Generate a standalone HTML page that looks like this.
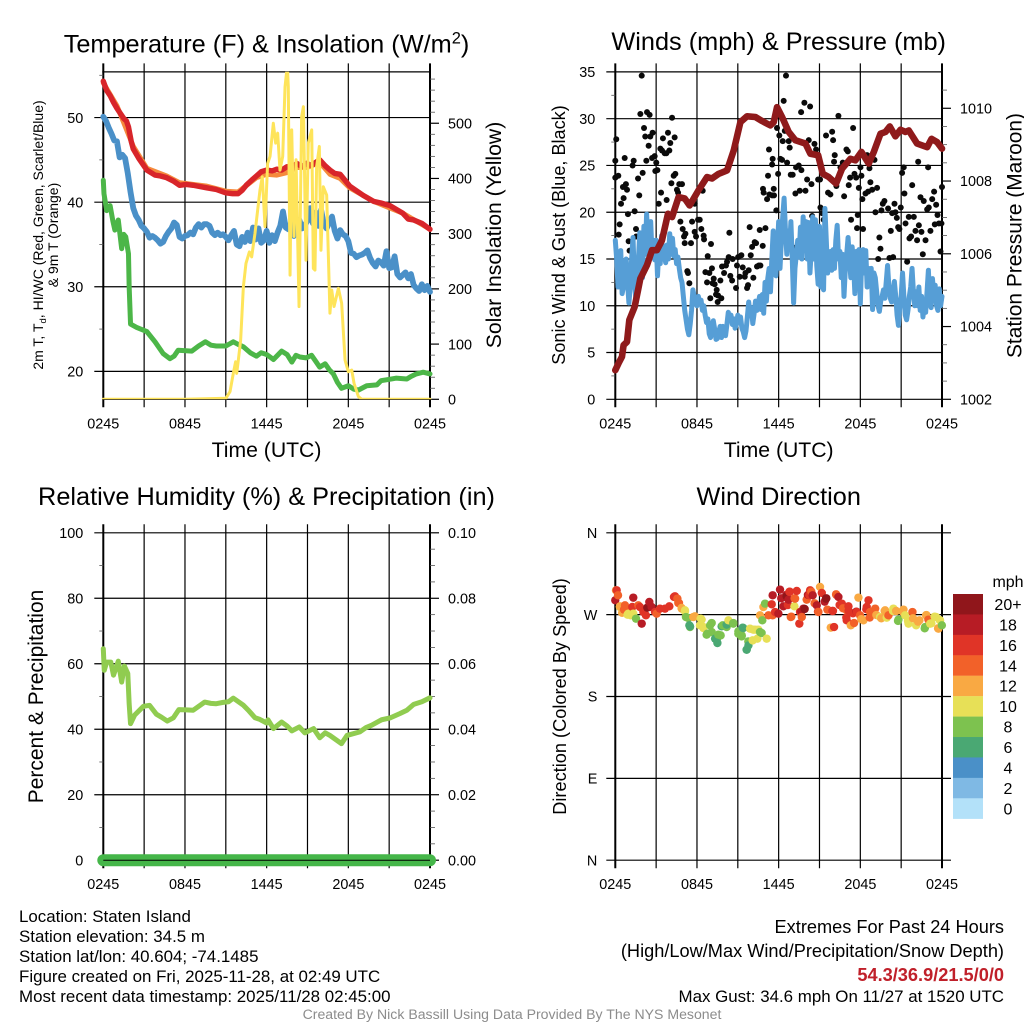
<!DOCTYPE html>
<html lang="en">
<head>
<meta charset="utf-8">
<title>NYS Mesonet Station Meteogram - Staten Island</title>
<style>
html,body{margin:0;padding:0;background:#fff;}
svg{display:block;font-family:"Liberation Sans",sans-serif;fill:#000;}
</style>
</head>
<body>
<svg id="chart" xmlns="http://www.w3.org/2000/svg" width="1024" height="1024" viewBox="0 0 1024 1024">
<rect x="0" y="0" width="1024" height="1024" fill="#fff"/>
<defs>
<clipPath id="temp-clip"><rect x="90" y="71.7" width="360" height="327.6"/></clipPath>
</defs>
<g id="layer-panels"></g>

<text x="266.5" y="52.5" text-anchor="middle" font-size="25.3">Temperature (F) &amp; Insolation (W/m<tspan dy="-9" font-size="16.5">2</tspan><tspan dy="9">)</tspan></text>
<text text-anchor="middle" font-size="14" transform="translate(43,235) rotate(-90)">2m T, T<tspan dy="3" font-size="9.5">d</tspan><tspan dy="-3">, HI/WC (Red, Green, Scarlet/Blue)</tspan></text>
<text text-anchor="middle" font-size="14" transform="translate(58,235) rotate(-90)">&amp; 9m T (Orange)</text>
<text text-anchor="middle" font-size="21.2" transform="translate(501,235) rotate(-90)">Solar Insolation (Yellow)</text>
<text x="266.5" y="457" text-anchor="middle" font-size="21.2">Time (UTC)</text>

<text x="778.7" y="50" text-anchor="middle" font-size="25.3">Winds (mph) &amp; Pressure (mb)</text>
<text text-anchor="middle" font-size="18.1" transform="translate(565,235) rotate(-90)">Sonic Wind &amp; Gust (Blue, Black)</text>
<text text-anchor="middle" font-size="20.9" transform="translate(1021.5,235.5) rotate(-90)">Station Pressure (Maroon)</text>
<text x="778.7" y="457" text-anchor="middle" font-size="21.2">Time (UTC)</text>

<text x="266.5" y="505" text-anchor="middle" font-size="25.3">Relative Humidity (%) &amp; Precipitation (in)</text>
<text text-anchor="middle" font-size="21" transform="translate(43,696.5) rotate(-90)">Percent &amp; Precipitation</text>

<text x="778.7" y="505" text-anchor="middle" font-size="25.3">Wind Direction</text>
<text text-anchor="middle" font-size="18.2" transform="translate(566,696.5) rotate(-90)">Direction (Colored By Speed)</text>
<text x="1008" y="587" text-anchor="middle" font-size="16">mph</text>
<g id="layer-legend"></g>

<g font-size="16.9">
<text x="19" y="922">Location: Staten Island</text>
<text x="19" y="942">Station elevation: 34.5 m</text>
<text x="19" y="962">Station lat/lon: 40.604; -74.1485</text>
<text x="19" y="982">Figure created on Fri, 2025-11-28, at 02:49 UTC</text>
<text x="19" y="1002">Most recent data timestamp: 2025/11/28 02:45:00</text>
</g>
<g text-anchor="end">
<text x="1004" y="933" font-size="18.2">Extremes For Past 24 Hours</text>
<text x="1004" y="957" font-size="18.2">(High/Low/Max Wind/Precipitation/Snow Depth)</text>
<text x="1004" y="981" font-size="18.2" font-weight="bold" fill="#c0202a">54.3/36.9/21.5/0/0</text>
<text x="1004" y="1002" font-size="16.9">Max Gust: 34.6 mph On 11/27 at 1520 UTC</text>
</g>
<text x="512" y="1019" text-anchor="middle" font-size="14.1" fill="#8c8c8c">Created By Nick Bassill Using Data Provided By The NYS Mesonet</text>
</svg>

<script>
// ---- Shared axis data ----
const timeTickHours = [0, 3, 6, 9, 12, 15, 18, 21, 24];
const timeTickLabels = ["0245", "", "0845", "", "1445", "", "2045", "", "0245"];

// ---- Temperature panel ----
const tempTicks = [20, 30, 40, 50];
const tempMinorTicks = [25, 35, 45, 55];
const solarTicks = [0, 100, 200, 300, 400, 500];
const solarMinorTicks = [20, 40, 60, 80, 120, 140, 160, 180, 220, 240, 260, 280, 320, 340, 360, 380, 420, 440, 460, 480, 520, 540, 560, 580];

const redHours = [0, .25, .5, .75, 1, 1.25, 1.5, 1.7, 1.85, 2.05, 2.2, 2.6, 3.2, 3.8, 4.2, 4.65, 5.15, 5.6, 6.1, 6.6, 7.6, 8.3, 9, 9.5, 9.9, 10.2, 10.5, 10.9, 11.25, 11.6, 12, 12.4, 12.75, 13.1, 13.5, 13.9, 14.2, 14.6, 14.95, 15.3, 15.6, 15.9, 16.3, 16.65, 17, 17.4, 18.1, 19.1, 19.85, 20.4, 21.05, 22, 22.4, 22.8, 23.4, 24];
const redTemp = [54.3, 53.2, 52.6, 51.8, 51.1, 50.5, 49.9, 49.6, 48.9, 47.2, 46.3, 45.2, 43.8, 43.2, 43.1, 42.9, 42.5, 42, 42.1, 42, 41.7, 41.5, 41.1, 41, 41, 41.4, 42, 42.6, 43.1, 43.6, 43.8, 43.7, 43.9, 43.8, 44.2, 44, 44.6, 44.2, 44.6, 44.3, 44.7, 45, 44.3, 43.8, 43.4, 43.3, 41.9, 40.8, 40.1, 39.9, 39.6, 38.7, 38, 37.9, 37.5, 36.8];
const orangeHours = [0, 1, 2.2, 3.2, 4.65, 5.6, 7.6, 9, 9.9, 11.25, 12, 12.75, 13.5, 14.2, 14.95, 15.9, 16.65, 17.4, 18.1, 19.85, 22, 24];
const orangeTemp = [54.1, 51.4, 46.6, 44, 43.1, 42.3, 41.9, 41.3, 41.2, 42.9, 43.3, 43.2, 43.5, 44.1, 44.1, 44.7, 43.3, 42.8, 41.7, 40.1, 38.7, 36.8];
// blue series sampled every 0.2 h, five values per hour on each row
const blueStepHours = 0.2;
const blueTemp = [
 50.1, 49.6, 48.8, 48.1, 47.3,
 47.2, 45.3, 45.6, 45.2, 43.4,
 41.2, 39.3, 38.4, 37.9, 37.2,
 36.9, 36.5, 35.8, 36, 35.8,
 35.5, 35.1, 35.3, 36, 36.5,
 36.9, 37.6, 37.3, 35.9, 35.7,
 36, 36.1, 36.4, 36.2, 37,
 37.4, 37, 37.4, 37.4, 37.2,
 36.4, 36.1, 36.4, 36.1, 36.2,
 35.9, 35.5, 36.1, 36.6, 35,
 34.8, 35.9, 35.3, 36.4, 35.4,
 37, 35.6, 36.9, 35.2, 35.5,
 36.6, 35.2, 36.1, 35.4, 36.4,
 37.2, 38.9, 37, 36.8, 37.6,
 36, 37.7, 37.9, 36.9, 37.3,
 37.8, 39.3, 37.5, 38.8, 37.2,
 39.1, 37.4, 36.9, 37.6, 38.3,
 36.6, 35.7, 36.7, 36.2, 36,
 35.4, 34, 33.9, 33.5, 33.7,
 33.8, 34, 34.3, 33.4, 32.8,
 32.4, 33.1, 32.9, 32.5, 34.2,
 32.2, 32.3, 33.6, 31.5, 31.1,
 31.4, 31.7, 31, 31.5, 30.2,
 29.8, 29.5, 30.3, 29.6, 30.1,
 29.4];
const greenHours = [0, .05, .25, .5, .7, .85, 1.1, 1.35, 1.5, 1.65, 1.85, 1.9, 2, 2.45, 3.2, 3.8, 4.4, 4.9, 5.2, 5.5, 6.5, 7, 7.5, 7.9, 8.3, 9, 9.55, 9.9, 10.3, 10.8, 11.25, 11.6, 12, 12.5, 13.1, 13.5, 13.85, 14.15, 14.45, 14.9, 15.3, 15.6, 15.9, 16.3, 16.6, 16.9, 17.2, 17.5, 18, 18.4, 18.75, 19.35, 20.1, 20.4, 20.8, 21.5, 22.3, 22.6, 23, 23.5, 24];
const greenTemp = [42.6, 41, 39, 39.6, 37.8, 36.7, 37.9, 34.5, 36.2, 35.9, 33.9, 30, 25.6, 25.2, 24.7, 23.5, 22.1, 21.5, 21.8, 22.5, 22.4, 23, 23.5, 23.1, 23, 23, 23.5, 23.2, 22.9, 22.2, 21.8, 22.2, 22, 21.4, 22.4, 22, 21.1, 21.9, 21.7, 21.6, 21.9, 21.2, 20.5, 20.9, 20.2, 19.7, 18.7, 18, 18.3, 17.9, 17.8, 18.3, 18.4, 18.9, 19, 19.2, 19.1, 19.4, 19.7, 19.9, 19.7];
const solarHours = [0, 3, 6, 9.01, 9.31, 9.55, 9.72, 9.8, 9.92, 10.09, 10.29, 10.48, 10.73, 10.9, 11.14, 11.51, 11.68, 11.88, 12.07, 12.25, 12.49, 12.66, 12.81, 12.98, 13.18, 13.35, 13.52, 13.59, 13.72, 13.84, 14.01, 14.16, 14.38, 14.57, 14.7, 14.89, 15.06, 15.31, 15.43, 15.55, 15.67, 15.87, 15.99, 16.16, 16.41, 16.65, 16.78, 16.95, 17.27, 17.51, 17.76, 18, 18.25, 18.42, 18.74, 18.98, 21, 24];
const solarValues = [0, 0, 0, 2, 14, 47, 68, 47, 71, 107, 204, 246, 267, 258, 300, 379, 403, 313, 427, 440, 500, 464, 482, 415, 440, 566, 605, 566, 225, 488, 295, 434, 168, 512, 530, 252, 464, 488, 237, 234, 421, 458, 270, 385, 370, 156, 198, 168, 201, 174, 71, 50, 53, 29, 5, 0, 0, 0];

// ---- Winds panel ----
const windTicks = [0, 5, 10, 15, 20, 25, 30, 35];
const windMinorTicks = [2.5, 7.5, 12.5, 17.5, 22.5, 27.5, 32.5];
const pressureTicks = [1002, 1004, 1006, 1008, 1010];
const pressureMinorTicks = [1002.5, 1003, 1003.5, 1004.5, 1005, 1005.5, 1006.5, 1007, 1007.5, 1008.5, 1009, 1009.5, 1010.5];
// sonic wind sampled every 0.1 h, ten values per hour on each row
const windStepHours = 0.1;
const windMph = [
 17, 15, 12, 14, 15.9, 11.3, 12, 14.5, 15, 12.5,
 10.3, 12, 15, 17.3, 13, 10.8, 14, 15, 17.8, 14,
 13, 18.5, 15.5, 19.8, 17, 15, 19, 15.5, 17, 14.9,
 17, 13.2, 16, 14.5, 17.5, 15, 15.5, 14.6, 16.5, 15,
 17.7, 15.5, 17.2, 15.3, 16, 14.5, 15.2, 14, 13, 12.5,
 11, 9.5, 8.5, 7.5, 6.9, 8, 9.5, 11.7, 11, 10.5,
 10, 11, 10.3, 10.6, 9.5, 10, 9, 8.2, 8.6, 7,
 6.6, 7.8, 8.4, 7.5, 6.4, 6.5, 7.2, 7.8, 6.6, 7.8,
 7.2, 6.8, 8, 9.3, 8.6, 9, 8, 8.6, 7.6, 8,
 9, 8.3, 8.8, 7.6, 7.2, 6.6, 7.3, 8.8, 10.4, 9,
 9.8, 8.1, 9.2, 10.5, 9.5, 10.3, 11, 9.6, 11.2, 9.2,
 12.5, 10.5, 12.9, 14, 11.5, 15, 18, 13.5, 13.2, 16,
 19, 14, 17, 19.5, 21.5, 18, 15.5, 18, 16, 19,
 15, 10.3, 14, 15.5, 17, 15.2, 18.4, 15, 19.5, 16,
 19, 15, 18.9, 13.5, 16, 19.5, 15, 19.2, 14.3, 12.3,
 18.5, 12, 16, 11.7, 20.4, 17, 13.5, 15, 15.8, 13.8,
 16, 14, 17, 18.6, 15, 15.8, 13, 15.5, 11, 14,
 15.5, 17.3, 15, 13, 16.3, 14.5, 11.3, 15.8, 12.5, 16,
 10.2, 15, 16, 13.5, 15.9, 12, 14, 12.8, 14, 9.6,
 13.5, 13, 11.5, 10, 9.4, 10.5, 11, 11.7, 10.8, 12.5,
 14.3, 12, 10.8, 10.4, 11.5, 12.6, 11, 9, 7.9, 10,
 11, 13.5, 11, 9, 8.5, 9.5, 11, 12, 14, 11.5,
 10, 11.5, 10, 12, 9.5, 11, 8.8, 10, 9.3, 11.5,
 13.8, 10.5, 9.8, 12.9, 11, 12.2, 10, 9.5, 11.8, 10,
 11];
const gustHours = [0, .07, 0, .22, .32, .25, .42, .61, .56, .78, .86, .69, .93, 1.27, 1.35, 1.42, 1.52, 1.54, .98, 1.05, 1.67, 1.76, 1.84, 1.94, 2.01, 2.11, 2.2, 2.28, 2.33, 2.52, 2.45, 2.57, 2.74, 2.7, 2.89, 2.94, 3.01, 3.09, 3.19, 3.36, 3.31, 3.5, 3.43, 3.63, 3.75, 3.77, 3.87, 3.97, 4.04, 4.17, 4.12, 4.29, 4.41, 4.36, 4.53, 4.61, 4.78, 4.7, 4.9, 4.95, 5.05, 5.15, 5.1, 5.29, 5.34, 5.44, 5.56, 5.64, 5.83, 5.93, 6.08, 6.2, 5.83, 6.32, 6.42, 6.49, 6.52, 7.03, 6.79, 6.62, 6.91, 6.74, 7.1, 7.23, 7.3, 7.15, 7.45, 7.4, 6.98, 7.52, 7.55, 7.79, 7.72, 7.84, 7.99, 8.13, 8.21, 8.33, 8.38, 8.45, 8.58, 8.94, 8.87, 8.62, 9.02, 9.14, 9.26, 9.36, 9.56, 9.51, 9.68, 9.75, 9.8, 9.87, 9.95, 10.05, 10.14, 10.24, 10.34, 10.41, 10.54, 10.66, 10.61, 10.83, 11.03, 10.9, 10.85, 11.15, 11.32, 11.52, 11.66, 11.64, 11.22, 11.29, 11.52, 11.56, 11.83, 11.96, 11.88, 12.05, 12.13, 12.25, 12.3, 12.37, 12.45, 12.62, 12.54, 12.74, 12.81, 12.89, 13.03, 13.13, 13.23, 13.28, 13.48, 13.55, 13.67, 13.65, 13.89, 13.97, 14.09, 14.21, 14.31, 14.41, 14.46, 14.63, 14.75, 14.9, 15.04, 15.07, 15.19, 15.31, 15.48, 15.63, 15.8, 15.93, 16, 16.07, 16.12, 16.24, 16.39, 16.54, 16.71, 16.81, 16.98, 17.08, 17.15, 17.25, 17.32, 17.47, 17.57, 17.69, 17.76, 17.81, 17.89, 18.01, 18.08, 18.15, 18.2, 18.38, 18.5, 18.57, 18.67, 18.74, 18.87, 19.04, 19.23, 19.11, 19.31, 19.4, 19.48, 19.55, 19.65, 19.77, 20.04, 20.14, 20.24, 20.34, 20.41, 20.51, 20.58, 20.68, 20.78, 20.87, 20.97, 21.07, 21.19, 21.24, 21.32, 21.44, 21.56, 21.61, 21.73, 21.81, 21.93, 22.05, 22.17, 22.25, 22.3, 22.42, 22.49, 22.59, 22.66, 22.79, 22.91, 22.98, 23.03, 23.15, 23.28, 23.42, 23.47, 23.57, 23.67, 23.77, 23.89, 23.96, 24];
const gustMph = [25.5, 27.8, 23.7, 23.9, 18.7, 17.6, 20.9, 21.5, 22.7, 23, 22.4, 25.8, 19.8, 25, 25.5, 20.1, 18.2, 17.4, 16.9, 15.9, 23.6, 21.8, 30.5, 34.6, 24.2, 29, 28.1, 25.5, 30.7, 30.4, 27.1, 28.1, 28.5, 25.8, 26, 24.4, 25.3, 24.5, 20.9, 22.1, 26.8, 27.9, 26.6, 26.3, 26.3, 21.3, 28.5, 26.6, 27.4, 30.1, 23.1, 23.9, 24.1, 28, 22.4, 22.1, 19, 23, 23, 18.2, 17.4, 17.7, 16.7, 13.7, 13.5, 12.4, 16.7, 19, 20.9, 17.4, 19.2, 19.2, 17.9, 18.2, 22.3, 17.5, 17.1, 16.6, 15.3, 13.6, 13.5, 12.5, 14, 12.9, 12.3, 12.4, 11.7, 11.2, 10.8, 10.4, 11.1, 10.8, 12.7, 14.2, 13.5, 14.3, 14.7, 15.2, 17.8, 13.2, 12.7, 14.3, 11.9, 15, 15.2, 13.1, 15.4, 14.1, 13.5, 13.1, 11.9, 12.2, 13.8, 18.4, 15.4, 16.3, 13, 16.8, 16.7, 14.2, 14.3, 14.3, 18.1, 16.4, 18.3, 22.1, 22.5, 21.4, 21.9, 21.8, 21.8, 22.5, 23.9, 26.7, 25.1, 25.7, 20.2, 24.1, 29, 28.2, 25.7, 25.6, 27.6, 31.9, 28.7, 25.3, 34.6, 27.6, 26.9, 24, 24, 16.2, 22, 24.8, 25, 22.3, 24.5, 30.7, 31.7, 22.3, 23.5, 27.7, 31.3, 23, 19.6, 27.3, 26.7, 23.5, 23.5, 20.5, 19.9, 19.2, 28.2, 22.1, 21.9, 28.6, 27.7, 25.4, 26.1, 22.8, 30.3, 24.8, 25.3, 21.7, 26.7, 26.5, 22.9, 23.7, 19.2, 29, 24.1, 23.7, 18.3, 19.7, 22.6, 24.8, 23.9, 21.4, 18.2, 22, 26.1, 22.2, 24.7, 23.2, 22.4, 25.6, 22.6, 20, 15, 17.3, 16.1, 20.2, 20.9, 21.2, 20.4, 15.1, 18, 19.9, 15.2, 20.9, 20, 19.4, 18.4, 18.2, 20.5, 24.2, 24.8, 22, 18.8, 14.7, 19.5, 17.2, 17.4, 22.9, 19.5, 18, 17, 25.4, 18.6, 21.6, 17.9, 15.5, 21.2, 17, 20.3, 24.8, 20.5, 18, 21.4, 22.2, 18.7, 20.8, 19.7, 18.8, 15.8, 18.8, 22.7];
const pressureHours = [0, .25, .49, .61, .86, 1.03, 1.42, 1.67, 1.84, 2.33, 2.7, 3.06, 3.43, 3.87, 4.17, 4.65, 5.1, 5.46, 6.12, 6.74, 7.1, 7.6, 8.21, 8.7, 9.19, 9.68, 10.29, 10.78, 11.39, 11.64, 11.88, 12.25, 12.74, 13.23, 13.97, 14.33, 14.9, 15.24, 15.68, 16.22, 16.66, 17.27, 17.64, 18.08, 18.62, 18.99, 19.48, 19.85, 20.16, 20.58, 20.95, 21.32, 21.56, 22.17, 22.91, 23.23, 23.64, 24];
const pressureMb = [1002.8, 1003, 1003.17, 1003.49, 1003.58, 1004.18, 1004.54, 1005, 1005.32, 1005.69, 1006.1, 1006.1, 1006.37, 1007.1, 1007.01, 1007.56, 1007.52, 1007.33, 1007.75, 1008.11, 1008.07, 1008.2, 1008.29, 1008.84, 1009.62, 1009.78, 1009.76, 1009.65, 1009.53, 1009.62, 1010.03, 1009.76, 1009.35, 1009.12, 1009.03, 1008.75, 1008.71, 1008.2, 1008.11, 1007.93, 1008.34, 1008.61, 1008.57, 1008.8, 1008.48, 1008.8, 1009.3, 1009.35, 1009.5, 1009.23, 1009.41, 1009.35, 1009.39, 1009.03, 1008.93, 1009.16, 1009.07, 1008.89];

// ---- Humidity / precipitation panel ----
const humidityTicks = [0, 20, 40, 60, 80, 100];
const humidityMinorTicks = [10, 30, 50, 70, 90];
const precipTicks = [0, 0.02, 0.04, 0.06, 0.08, 0.1];
const precipMinorTicks = [0.005, 0.01, 0.015, 0.025, 0.03, 0.035, 0.045, 0.05, 0.055, 0.065, 0.07, 0.075, 0.085, 0.09, 0.095];
const humidityHours = [0, .07, .25, .55, .75, 1.1, 1.35, 1.55, 1.8, 1.9, 2, 2.3, 2.95, 3.4, 3.9, 4.3, 4.7, 5.15, 5.55, 6.1, 6.6, 7.45, 7.9, 8.3, 8.8, 9.2, 9.55, 10.3, 10.7, 11.15, 11.5, 12, 12.1, 12.5, 13.1, 13.5, 13.85, 14.4, 14.8, 15.45, 15.9, 16.3, 16.65, 17.5, 17.9, 18.85, 19.3, 19.7, 20.45, 21.1, 21.8, 22.3, 22.8, 23.4, 24];
const humidityPct = [64.6, 58, 60.5, 60.5, 56.5, 60.8, 54.4, 59.3, 57, 47.8, 41.7, 44.3, 47, 47.3, 44.6, 43.6, 42.5, 43.5, 46, 45.9, 45.8, 48.3, 47.9, 47.8, 48.2, 48.4, 49.5, 47.3, 45.6, 43.5, 43, 41.9, 42.9, 40.2, 42.2, 41, 39.5, 40.7, 38.9, 40.2, 37.4, 38.9, 38.1, 35.6, 38.1, 39.2, 40.5, 41.2, 42.9, 43.5, 44.8, 45.8, 47.6, 48.4, 49.6];
const precipHours = [0, 6, 12, 18, 24];
const precipInches = [0, 0, 0, 0, 0];

// ---- Wind direction panel ----
const directionTicks = [0, 90, 180, 270, 360];
const directionLabels = ["N", "E", "S", "W", "N"];
const dirHours = [.05, .1, .2, 0, .34, .64, .71, .96, 1.13, 1.32, 1.52, 1.25, 1.32, 1.69, 1.81, 1.94, 2.06, 2.25, 2.5, 2.35, 2.67, 2.92, 3.04, 3.28, 3.65, 3.97, 4.31, 4.56, 4.68, 4.88, 5.12, 5.19, 5.44, 5.49, 5.73, 6.27, 6.22, 6.47, 6.76, 6.96, 7.08, 7.33, 7.5, 7.74, 7.89, 8.31, 8.67, 8.18, 9.04, 9.29, 9.36, 9.65, 9.78, 10.09, 9.9, 10.27, 10.44, 10.63, 11.12, 10.63, 10.88, 11, 10.8, 11.25, 11.56, 11.74, 11.98, 11.49, 11.56, 12.1, 12.59, 12.35, 12.72, 12.79, 13.21, 13.33, 12.89, 13.16, 13.52, 13.82, 13.7, 13.57, 14.31, 14.26, 14.5, 14.06, 15.04, 15.17, 14.8, 14.92, 15.48, 15.58, 15.95, 16.07, 15.83, 16.22, 16.39, 16.64, 17, 17.13, 17, 17.3, 17.54, 17.86, 17.74, 17.98, 18.23, 18.47, 18.6, 18.72, 19.09, 19.45, 19.82, 20.07, 19.94, 20.43, 20.63, 20.8, 21.17, 21.29, 21.54, 21.83, 22.1, 22.34, 22.76, 22.83, 23, 23.13, 23.57, 23.74, 23.99, 23.86,
 .34, .71, .5, .9, 4.38, 4.63, 4.87, 5.12, 5.36, 5.49, 5.85, 6.34, 6.47, 6.71, 7.08, 7.57, 7.45, 7.81, 8.18, 8.67, 9.04, 9.28, 9.4, 9.65, 9.77, 10.14, 10.5, 10.75,
 12.19, 12.56, 12.81, 13.17, 12.68, 12.93, 13.66, 13.91, 14.15, 14.4, 14.64, 14.89, 15.38, 15.5, 15.99, 16.24, 16.48, 16.73, 16.97, 17.14, 17.46, 17.71, 18.07, 18.44, 18.69, 19.18, 19.54, 19.79, 20.03, 20.4, 20.77, 21.13, 21.5, 21.87, 22.24, 22.73, 22.85, 23.22, 23.46, 23.83, 23.71];
const dirDegrees = [296.8, 296.8, 291.3, 285.8, 278.4, 275.5, 280.3, 271.1, 269.3, 271.1, 265.6, 278.4, 288.7, 280.3, 278.4, 260.1, 272.9, 269.3, 283.9, 277.7, 278.4, 272.9, 271.1, 276.6, 276.6, 279.2, 289.5, 287.6, 282.8, 276.6, 274.8, 267.4, 258.3, 256.4, 267.4, 265.6, 258.3, 256.4, 249.1, 258.3, 250.9, 243.6, 238.8, 247.2, 258.3, 263.8, 260.1, 256.4, 249.1, 247.2, 255.7, 231.5, 236.2, 241.7, 254.6, 253.5, 243.6, 250.9, 243.6, 269.3, 278.4, 282.1, 263.8, 269.3, 269.3, 272.9, 271.1, 281.4, 291.3, 297.5, 290.2, 279.2, 286.5, 295, 287.6, 296.1, 267.4, 279.2, 260.1, 276.6, 267.4, 272.9, 296.8, 291.3, 291.3, 286.5, 300.5, 293.9, 280.3, 272.9, 287.6, 275.5, 274, 256.4, 255.7, 292.4, 289.5, 282.1, 274.8, 279.2, 263.8, 258.3, 260.8, 288.7, 272.9, 269.3, 263.8, 278.4, 285.8, 272.9, 276.6, 267.4, 274.8, 269.3, 266.7, 276.6, 274, 264.5, 275.5, 269.3, 260.1, 272.9, 258.3, 263.8, 256.4, 269.3, 264.5, 260.1, 267.4, 254.6, 258.3, 263.8,
 279.2, 275.5, 272, 270, 290.2, 282.8, 277.3, 273.7, 266.3, 257.2, 268.2, 264.5, 255.3, 248, 260.8, 248, 242.5, 257.2, 259, 260.8, 251.7, 246.1, 255.3, 231.5, 240.6, 253.5, 253.5, 249.8,
 288, 291.7, 295.3, 288, 280.6, 267.8, 273.3, 276.2, 291.7, 295.3, 282.5, 273.3, 284.3, 288, 274.1, 291.7, 280.6, 277, 266.8, 274.1, 271.5, 273.3, 265, 276, 266.8, 269.6, 266, 274, 269.6, 274, 263.1, 273, 263, 266, 262.3, 255, 269.6, 260.5, 267.8, 264.1, 255];
const dirSpeeds = [12, 16, 14, 18, 10, 14, 14, 10, 10, 10, 8, 16, 18, 14, 16, 18, 16, 16, 18, 20, 18, 16, 14, 16, 16, 16, 16, 14, 14, 12, 10, 8, 6, 8, 12, 10, 10, 10, 8, 8, 8, 6, 6, 8, 8, 10, 8, 8, 8, 8, 6, 6, 6, 10, 10, 10, 10, 8, 10, 12, 12, 8, 8, 14, 14, 16, 18, 16, 18, 18, 20, 18, 18, 16, 14, 16, 14, 10, 16, 18, 14, 16, 16, 16, 18, 14, 12, 16, 18, 14, 20, 14, 16, 16, 12, 14, 18, 16, 14, 16, 16, 12, 14, 12, 16, 14, 12, 16, 16, 14, 14, 10, 12, 14, 10, 10, 12, 8, 12, 10, 10, 14, 10, 12, 8, 12, 14, 10, 10, 12, 8, 10,
 12, 14, 12, 10, 16, 14, 12, 10, 8, 6, 12, 10, 10, 8, 8, 8, 6, 6, 6, 8, 8, 8, 6, 6, 8, 10, 10, 8,
 18, 18, 16, 14, 16, 14, 18, 20, 18, 14, 14, 16, 18, 20, 16, 14, 16, 14, 16, 16, 16, 18, 12, 16, 14, 12, 12, 12, 12, 10, 8, 12, 10, 12, 12, 8, 12, 10, 10, 10, 12];

// ---- Speed legend ----
const speedBinLabels = ["20+", "18", "16", "14", "12", "10", "8", "6", "4", "2", "0"];
const speedBinColors = ["#90161b", "#b71c25", "#e03427", "#f26129", "#f9a943", "#e7e057", "#7dc24f", "#4aa873", "#4a90c8", "#7fb9e4", "#b3e1f9"];

// ---- Drawing ----
const NS = "http://www.w3.org/2000/svg";
const panelsLayer = document.getElementById("layer-panels");
const legendLayer = document.getElementById("layer-legend");
const PANEL_W = 326.7;
const PANEL_H = 327.4;

function make(parent, tag, attrs) {
  const el = document.createElementNS(NS, tag);
  for (const k in attrs) el.setAttribute(k, attrs[k]);
  parent.appendChild(el);
  return el;
}

function timeScale(left) {
  return h => left + h / 24 * PANEL_W;
}

function valueScale(top, min, max) {
  return v => top + PANEL_H - (v - min) / (max - min) * PANEL_H;
}

function sampleHours(values, step) {
  return values.map((v, i) => i * step);
}

function linePath(xs, ys, sx, sy) {
  return xs.map((h, i) => (i ? "L" : "M") + sx(h).toFixed(2) + " " + sy(ys[i]).toFixed(2)).join("");
}

function drawLine(parent, xs, ys, sx, sy, color, width, name) {
  const el = make(parent, "path", { d: linePath(xs, ys, sx, sy), fill: "none", stroke: color, "stroke-width": width, "stroke-linejoin": "round", "stroke-linecap": "round" });
  
  
  return el;
}

function hLine(parent, x1, x2, y, width, color, name) {
  const el = make(parent, "line", { x1: x1, x2: x2, y1: y, y2: y, stroke: color, "stroke-width": width });
  
  
}

function drawGrid(parent, left, top, sx) {
  const g = make(parent, "g", {});
  
  
  timeTickHours.forEach((h, i) => {
    const x = sx(h);
    const edge = i === 0 || i === timeTickHours.length - 1;
    const line = make(g, "line", { x1: x, x2: x, y1: top - 8.5, y2: top + PANEL_H + 8, stroke: "#000", "stroke-width": edge ? 2 : 1.2 });
    
    
    if (timeTickLabels[i]) {
      const t = make(g, "text", { x: x, y: top + PANEL_H + 29, "text-anchor": "middle", "font-size": 14.4 });
      t.textContent = timeTickLabels[i];
      
      
    }
  });
}

function yLabel(parent, x, y, text, anchor, name) {
  const t = make(parent, "text", { x: x, y: y + 5.2, "text-anchor": anchor, "font-size": 14.4 });
  t.textContent = text;
  
  
}

function drawLeftAxis(parent, left, ticks, minors, sy, fmt, rightEdge) {
  const g = make(parent, "g", {});
  
  
  ticks.forEach(v => {
    hLine(g, left - 9, rightEdge, sy(v), 1.2, "#000", "left-axis-gridline");
    yLabel(g, left - 20, sy(v), fmt(v), "end", "left-axis-tick-label");
  });
  minors.forEach(v => hLine(g, left - 4, left, sy(v), 0.8, "#555", "left-axis-minor-tick"));
}

function drawRightAxis(parent, right, ticks, minors, sy, fmt) {
  const g = make(parent, "g", {});
  
  
  ticks.forEach(v => {
    hLine(g, right, right + 9, sy(v), 1.2, "#000", "right-axis-tick");
    yLabel(g, right + 18, sy(v), fmt(v), "start", "right-axis-tick-label");
  });
  minors.forEach(v => hLine(g, right, right + 5, sy(v), 0.8, "#555", "right-axis-minor-tick"));
}

function drawPanel(name) {
  const g = make(panelsLayer, "g", {});
  
  
  return g;
}

// Temperature panel
(function () {
  const L = 103.3, T = 71.9;
  const sx = timeScale(L);
  const syT = valueScale(T, 16.7, 55.4);
  const syS = valueScale(T, 0, 593);
  const g = drawPanel("temperature-panel");
  drawGrid(g, L, T, sx);
  hLine(g, L - 1, L + PANEL_W, T, 1.2, "#000", "temperature-top-border");
  hLine(g, L - 1, L + PANEL_W, T + PANEL_H, 1.2, "#000", "temperature-bottom-border");
  drawLeftAxis(g, L, tempTicks, tempMinorTicks, syT, String, L + PANEL_W);
  drawRightAxis(g, L + PANEL_W, solarTicks, solarMinorTicks, syS, String);
  drawLine(g, orangeHours, orangeTemp, sx, syT, "#f58a3c", 5, "nine-meter-temperature-line");
  drawLine(g, redHours, redTemp, sx, syT, "#d8252a", 5.4, "temperature-line");
  drawLine(g, sampleHours(blueTemp, blueStepHours), blueTemp, sx, syT, "#4a90c8", 5.8, "wind-chill-line");
  drawLine(g, greenHours, greenTemp, sx, syT, "#4cb648", 5, "dew-point-line");
  const solar = drawLine(g, solarHours, solarValues, sx, syS, "#fee45a", 3, "solar-insolation-line");
  solar.setAttribute("clip-path", "url(#temp-clip)");
})();

// Winds panel
(function () {
  const L = 615.3, T = 71.9;
  const sx = timeScale(L);
  const syW = valueScale(T, 0, 35);
  const syP = valueScale(T, 1002, 1011);
  const g = drawPanel("winds-panel");
  drawGrid(g, L, T, sx);
  drawLeftAxis(g, L, windTicks, windMinorTicks, syW, String, L + PANEL_W);
  drawRightAxis(g, L + PANEL_W, pressureTicks, pressureMinorTicks, syP, String);
  const dots = make(g, "g", { fill: "#0a0a0a" });
  
  
  gustHours.forEach((h, i) => {
    const c = make(dots, "circle", { cx: sx(h), cy: syW(gustMph[i]), r: 3 });
    
    
  });
  drawLine(g, sampleHours(windMph, windStepHours), windMph, sx, syW, "#569ed6", 5, "sonic-wind-line");
  drawLine(g, pressureHours, pressureMb, sx, syP, "#8f1a1b", 6.6, "station-pressure-line");
})();

// Humidity panel
(function () {
  const L = 103.3, T = 532.8;
  const sx = timeScale(L);
  const syH = valueScale(T, 0, 100);
  const syP = valueScale(T, 0, 0.1);
  const g = drawPanel("humidity-panel");
  drawGrid(g, L, T, sx);
  drawLeftAxis(g, L, humidityTicks.slice(1), humidityMinorTicks, syH, String, L + PANEL_W);
  drawRightAxis(g, L + PANEL_W, precipTicks, precipMinorTicks, syP, v => v.toFixed(2));
  yLabel(g, L - 20, syH(0), "0", "end", "left-axis-tick-label");
  drawLine(g, precipHours, precipInches, sx, syP, "#45b649", 12, "precipitation-line");
  hLine(g, L, L + PANEL_W, T + PANEL_H, 1, "#000", "humidity-baseline");
  drawLine(g, humidityHours, humidityPct, sx, syH, "#90cc50", 5, "relative-humidity-line");
})();

// Wind direction panel
(function () {
  const L = 615.3, T = 532.8;
  const sx = timeScale(L);
  const syD = valueScale(T, 0, 360);
  const g = drawPanel("wind-direction-panel");
  drawGrid(g, L, T, sx);
  directionTicks.forEach((v, i) => {
    hLine(g, L - 9, L + PANEL_W + 9, syD(v), 1.2, "#000", "direction-gridline");
    yLabel(g, L - 18, syD(v), directionLabels[i], "end", "direction-tick-label");
  });
  const dots = make(g, "g", {});
  
  
  const order = dirHours.map((h, i) => i).sort((a, b) => dirHours[a] - dirHours[b]);
  order.forEach(i => {
    const bin = 10 - Math.min(10, Math.floor(dirSpeeds[i] / 2));
    const c = make(dots, "circle", { cx: sx(dirHours[i]), cy: syD(dirDegrees[i]), r: 4.2, fill: speedBinColors[bin] });
    
    
  });
})();

// Legend
speedBinLabels.forEach((label, i) => {
  const y = 594 + i * 20.43;
  const r = make(legendLayer, "rect", { x: 953, y: y, width: 30, height: 20.6, fill: speedBinColors[i] });
  
  
  const t = make(legendLayer, "text", { x: 1008, y: y + 16, "text-anchor": "middle", "font-size": 16 });
  t.textContent = label;
  
  
});
</script>
</body>
</html>
